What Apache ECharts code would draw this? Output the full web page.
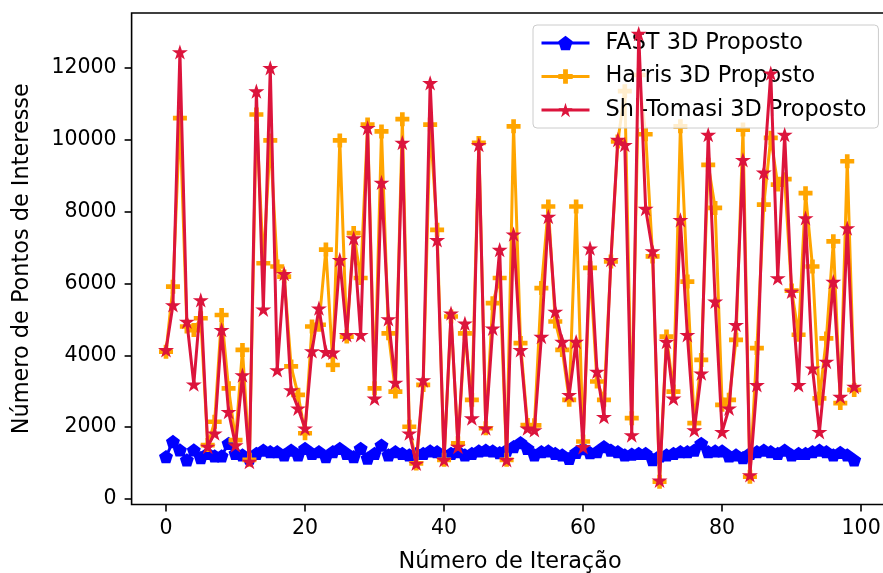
<!DOCTYPE html>
<html>
<head>
<meta charset="utf-8">
<script src="https://cdn.jsdelivr.net/npm/echarts@6/dist/echarts.min.js"></script>
<style>
  html, body { margin: 0; padding: 0; background: #fff; }
  #chart { width: 883px; height: 573px; }
</style>
</head>
<body>
<div id="chart"></div>
<script>
// Interest points detected per iteration, for three proposed 3D detectors
const seriesNames = ['FAST 3D Proposto', 'Harris 3D Proposto', 'Shi-Tomasi 3D Proposto'];

const fast3d = [
  1180, 1600, 1365, 1090, 1365, 1150, 1270, 1200, 1200, 1550,
  1270, 1230, 1140, 1270, 1360, 1320, 1320, 1230, 1360, 1230,
  1410, 1270, 1320, 1180, 1320, 1410, 1270, 1180, 1410, 1140,
  1270, 1500, 1230, 1320, 1270, 1230, 1270, 1270, 1340, 1320,
  1230, 1270, 1320, 1230, 1270, 1340, 1360, 1340, 1290, 1360,
  1460, 1570, 1410, 1230, 1320, 1340, 1270, 1230, 1130, 1300,
  1400, 1290, 1320, 1460, 1360, 1320, 1230, 1250, 1270, 1270,
  1100, 1200, 1230, 1270, 1320, 1320, 1360, 1550, 1320, 1340,
  1340, 1200, 1230, 1150, 1270, 1320, 1360, 1320, 1270, 1360,
  1230, 1270, 1270, 1320, 1360, 1320, 1230, 1300, 1230, 1090
];

const harris3d = [
  4100, 5910, 10600, 4800, 4700, 5030, 1500, 2150, 5120, 3080,
  1640, 4150, 1090, 10700, 6560, 9980, 6470, 6190, 3690, 2900,
  1830, 4800, 4850, 6940, 3730, 9980, 4520, 7400, 6150, 10420,
  3080, 10230, 4610, 2990, 10570, 2010, 990, 3175, 10420, 7490,
  1090, 5080, 1550, 4610, 2760, 9910, 1970, 5450, 6150, 1090,
  10370, 4340, 2060, 2050, 5870, 8140, 4940, 4150, 2760, 8140,
  1600, 6430, 3270, 2760, 6610, 9950, 11350, 2250, 11800, 10150,
  6750, 480, 4520, 2990, 10370, 6050, 2110, 3870, 9300, 8100,
  2620, 2760, 4430, 10280, 620, 4200, 8190, 10050, 8750, 8900,
  5800, 4570, 8510, 6470, 2800, 4470, 7170, 2670, 9400, 3035
];

const shiTomasi3d = [
  4150, 5400, 12440, 4940, 3195, 5540, 1460, 1830, 4710, 2430,
  1500, 3450, 1040, 11350, 5280, 12000, 3590, 6270, 3035, 2525,
  1970, 4120, 5310, 4100, 4080, 6660, 4570, 7260, 4570, 10330,
  2800, 8810, 5010, 3240, 9920, 1830, 990, 3310, 11580, 7210,
  1090, 5170, 1460, 4890, 2250, 9860, 1970, 4750, 6940, 1090,
  7370, 4150, 1970, 1920, 4520, 7860, 5220, 4380, 2900, 4380,
  1450, 6980, 3550, 2290, 6660, 10000, 9860, 1780, 12950, 8080,
  6900, 520, 4380, 2800, 7770, 4570, 1920, 3500, 10140, 5500,
  1870, 2525, 4850, 9440, 670, 3175, 9090, 11850, 6150, 10140,
  5775, 3175, 7820, 3640, 1870, 3825, 6050, 2850, 7540, 3130
];

const xTicks = [0, 20, 40, 60, 80, 100];
const yTicks = [0, 2000, 4000, 6000, 8000, 10000, 12000];

// Marker outlines, built as SVG paths
function polyPath(pts) {
  return 'path://M' + pts.map(p => p[0].toFixed(4) + ',' + p[1].toFixed(4)).join(' L') + ' Z';
}
function pentagonPath() {
  const pts = [];
  for (let k = 0; k < 5; k++) {
    const a = (-90 + 72 * k) * Math.PI / 180;
    pts.push([Math.cos(a), Math.sin(a)]);
  }
  return polyPath(pts);
}
function starPath() {
  const pts = [];
  for (let k = 0; k < 10; k++) {
    const r = k % 2 === 0 ? 1 : 0.382;
    const a = (-90 + 36 * k) * Math.PI / 180;
    pts.push([r * Math.cos(a), r * Math.sin(a)]);
  }
  return polyPath(pts);
}
const plusPath = 'path://M1,0 L2,0 L2,1 L3,1 L3,2 L2,2 L2,3 L1,3 L1,2 L0,2 L0,1 L1,1 Z';

const FONT = 'DejaVu Sans';
const colors = ['#0000ff', '#ffa500', '#dc143c'];
const symbols = [pentagonPath(), plusPath, starPath()];
const symbolSizes = [14, 14, 16];
const values = [fast3d, harris3d, shiTomasi3d];

const chart = echarts.init(document.getElementById('chart'), null, { renderer: 'canvas' });

chart.setOption({
  animation: false,
  backgroundColor: '#ffffff',
  textStyle: { fontFamily: FONT },
  grid: {
    left: 131.6, right: -5.6, top: 13, bottom: 68.5,
    outerBoundsMode: 'none',
    show: true, borderColor: '#000', borderWidth: 1.6, containLabel: false
  },
  legend: {
    orient: 'vertical',
    left: 533, top: 25,
    padding: [6, 12, 6, 7],
    itemWidth: 48, itemHeight: 18, itemGap: 9.5,
    backgroundColor: 'rgba(255,255,255,0.8)',
    borderColor: '#cccccc', borderWidth: 1, borderRadius: 4,
    lineStyle: { width: 3 },
    textStyle: { fontFamily: FONT, fontSize: 22.4, color: '#000', lineHeight: 24, padding: [0, 0, 0, 11] },
    data: seriesNames
  },
  xAxis: {
    type: 'value',
    min: -4.95, max: 103.95,
    name: 'Número de Iteração',
    nameLocation: 'middle', nameGap: 47,
    nameTextStyle: { fontFamily: FONT, fontSize: 22.4, color: '#000' },
    axisLine: { show: false, onZero: false },
    axisTick: { show: true, customValues: xTicks, length: 7, inside: false, lineStyle: { color: '#000', width: 1.6 } },
    axisLabel: { customValues: xTicks, margin: 14, fontFamily: FONT, fontSize: 20.5, color: '#000',
                 formatter: v => String(v) },
    splitLine: { show: false }
  },
  yAxis: {
    type: 'value',
    min: -153, max: 13525,
    name: 'Número de Pontos de Interesse',
    nameLocation: 'middle', nameGap: 98,
    nameTextStyle: { fontFamily: FONT, fontSize: 22.4, color: '#000' },
    axisLine: { show: false, onZero: false },
    axisTick: { show: true, customValues: yTicks, length: 7, inside: false, lineStyle: { color: '#000', width: 1.6 } },
    axisLabel: { customValues: yTicks, margin: 15, fontFamily: FONT, fontSize: 20.5, color: '#000',
                 formatter: v => String(v) },
    splitLine: { show: false }
  },
  series: seriesNames.map((name, s) => ({
    name: name,
    type: 'line',
    data: values[s].map((v, i) => [i, v]),
    symbol: symbols[s],
    symbolSize: symbolSizes[s],
    symbolKeepAspect: true,
    showAllSymbol: true,
    lineStyle: { color: colors[s], width: 3 },
    itemStyle: { color: colors[s], borderColor: colors[s], borderWidth: 0 },
    emphasis: { disabled: true },
    z: 2 + s
  }))
});
</script>
</body>
</html>
